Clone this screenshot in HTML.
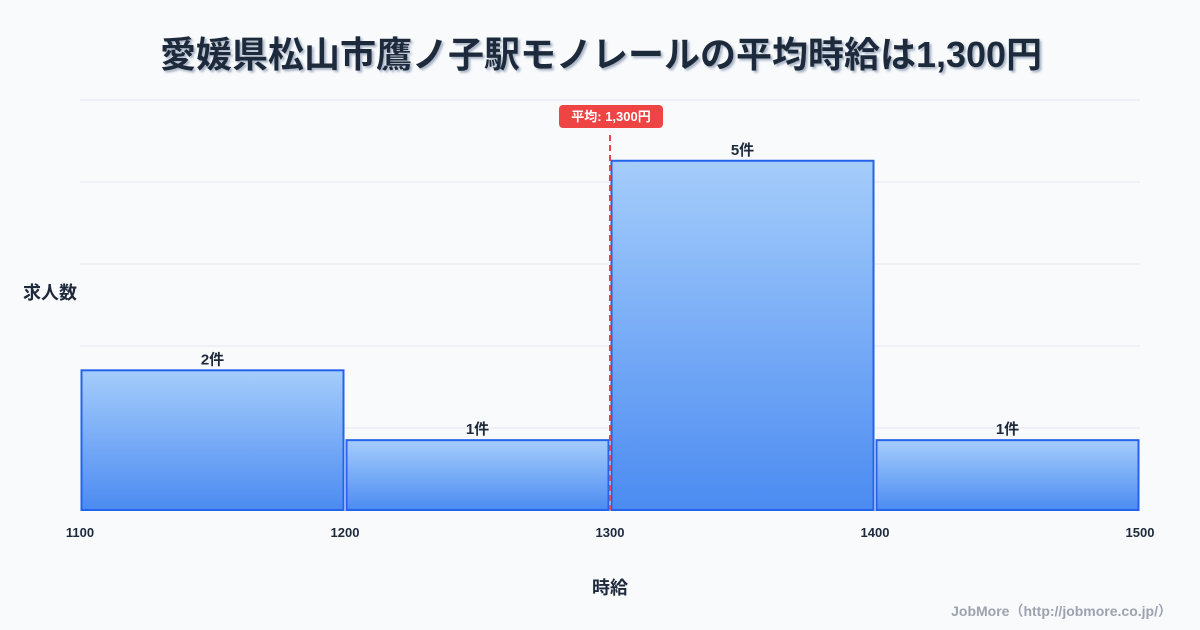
<!DOCTYPE html>
<html><head><meta charset="utf-8"><style>
body{margin:0;width:1200px;height:630px;background:#f8fafc;overflow:hidden;font-family:"Liberation Sans","Noto Sans CJK JP",sans-serif}
svg{display:block}
</style></head><body>
<svg id="chart" width="1200" height="630" xmlns="http://www.w3.org/2000/svg">
<defs><linearGradient id="g" x1="0" y1="0" x2="0" y2="1"><stop offset="0" stop-color="#a5cdfb"/><stop offset="1" stop-color="#4b8bf1"/></linearGradient>
<filter id="sh"><feDropShadow dx="2" dy="2" stdDeviation="1" flood-color="#94a3b8" flood-opacity="0.8"/></filter></defs>
<text x="601" y="67" text-anchor="middle" font-size="36" font-weight="bold" fill="#1e293b" filter="url(#sh)" font-family="'Liberation Sans','Noto Sans CJK JP',sans-serif">愛媛県松山市鷹ノ子駅モノレールの平均時給は1,300円</text>
<g id="grid"></g><g id="bars"></g><g id="xt"></g>
<text x="50" y="299" text-anchor="middle" font-size="18" font-weight="bold" fill="#1e293b">求人数</text>
<text x="610" y="594" text-anchor="middle" font-size="18" font-weight="bold" fill="#1e293b">時給</text>
<text x="1172" y="616" text-anchor="end" font-size="14" font-weight="bold" fill="#9ca3af">JobMore（http://jobmore.co.jp/）</text>
</svg>
<script>
const binStarts=[1100,1200,1300,1400];
const counts=[2,1,5,1];
const xTicks=[1100,1200,1300,1400,1500];
const meanValue=1300;
const NS="http://www.w3.org/2000/svg";
const L=80,R=1140,T=100,B=510,yMax=5.87;
const xs=v=>L+(v-1100)/(1500-1100)*(R-L);
const ys=v=>B-v/yMax*(B-T);
function mk(t,a,p){const e=document.createElementNS(NS,t);for(const k in a)e.setAttribute(k,a[k]);p.appendChild(e);return e;}
const grid=document.getElementById('grid'),bars=document.getElementById('bars'),xt=document.getElementById('xt');
for(let i=0;i<=5;i++){const y=T+i*(B-T)/5;const l=mk('line',{x1:L,x2:R,y1:y,y2:y,stroke:'#e2e8f0','stroke-width':1},grid);

}
binStarts.forEach((s,i)=>{const x0=xs(s)+1.5,x1=xs(s+100)-1.5,y=ys(counts[i]);
const r=mk('rect',{x:x0,y:y,width:x1-x0,height:B-y,fill:'url(#g)',stroke:'#2563eb','stroke-width':2},bars);


const t=mk('text',{x:(x0+x1)/2,y:y-6,'text-anchor':'middle','font-size':15,'font-weight':'bold',fill:'#1e293b'},bars);t.textContent=counts[i]+'件';

});
xTicks.forEach(v=>{const t=mk('text',{x:xs(v),y:537,'text-anchor':'middle','font-size':13,'font-weight':'bold',fill:'#1e293b'},xt);t.textContent=v;

});
const mx=xs(meanValue);
const ml=mk('line',{x1:mx,x2:mx,y1:135,y2:B,stroke:'#ef4444','stroke-width':2,'stroke-dasharray':'6,4'},bars);


const bg=mk('rect',{x:mx-51,y:105,width:104,height:23,rx:4,fill:'#ef4444'},bars);


const bt=mk('text',{x:mx+1,y:121,'text-anchor':'middle','font-size':13,'font-weight':'bold',fill:'#fff'},bars);
bt.textContent='平均: '+meanValue.toLocaleString('en-US')+'円';


</script>
</body></html>
